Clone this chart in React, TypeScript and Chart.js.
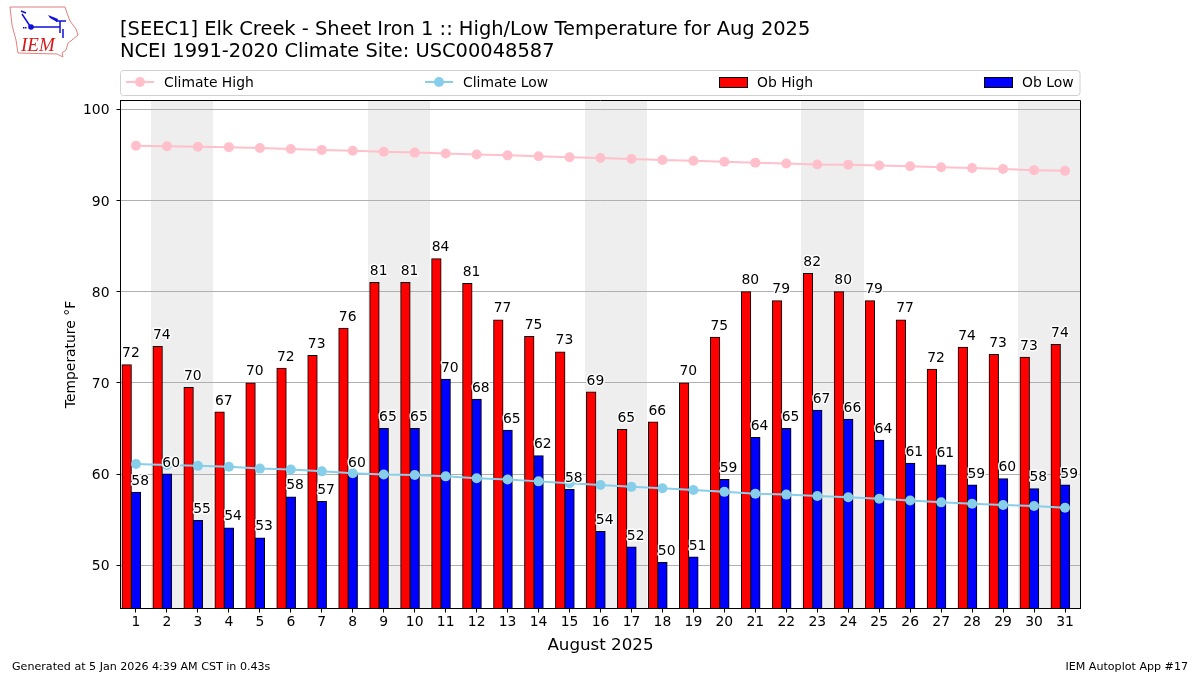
import React, { useEffect, useRef } from "react";
import { Chart, registerables } from "chart.js";

Chart.register(...registerables);

const days = Array.from({ length: 31 }, (_, i) => String(i + 1));
const obHigh = [72, 74, 69.5, 66.8, 70, 71.6, 73, 76, 81, 81, 83.6, 80.9, 76.9, 75.1, 73.4, 69, 64.9, 65.7, 70, 75, 80, 79, 82, 80, 79, 76.9, 71.5, 73.9, 73.1, 72.8, 74.2];
const obLow = [58, 60, 54.9, 54.1, 53, 57.5, 57, 60, 65, 65, 70.4, 68.2, 64.8, 62, 58.3, 53.7, 52, 50.3, 50.9, 59.4, 64, 65, 67, 66, 63.7, 61.2, 61, 58.8, 59.5, 58.4, 58.8];
const climateHigh = [96.0, 95.95, 95.9, 95.85, 95.75, 95.65, 95.55, 95.45, 95.35, 95.25, 95.15, 95.05, 94.95, 94.85, 94.75, 94.65, 94.55, 94.45, 94.35, 94.25, 94.15, 94.05, 93.95, 93.93, 93.83, 93.75, 93.65, 93.55, 93.45, 93.33, 93.25];
const climateLow = [61.1, 61.0, 60.9, 60.8, 60.6, 60.5, 60.3, 60.1, 59.95, 59.9, 59.75, 59.55, 59.4, 59.2, 59.0, 58.8, 58.6, 58.45, 58.25, 58.05, 57.85, 57.75, 57.6, 57.45, 57.3, 57.1, 56.9, 56.75, 56.6, 56.5, 56.3];
const weekendDays = [2, 3, 9, 10, 16, 17, 23, 24, 30, 31];
const yTicks = [50, 60, 70, 80, 90, 100];
const titleLines = ["[SEEC1] Elk Creek - Sheet Iron 1 :: High/Low Temperature for Aug 2025", "NCEI 1991-2020 Climate Site: USC00048587"];
const footerLeft = "Generated at 5 Jan 2026 4:39 AM CST in 0.43s";
const footerRight = "IEM Autoplot App #17";

const FONT = '"DejaVu Sans"';

const shadePlugin = {
  id: "shade",
  beforeDraw(chart: any) {
    const { ctx, chartArea, scales } = chart;
    const step = scales.x.getPixelForValue(1) - scales.x.getPixelForValue(0);
    ctx.save();
    ctx.fillStyle = "#eeeeee";
    weekendDays.forEach((d) => {
      const c = scales.x.getPixelForValue(d - 1);
      const x0 = Math.floor(c - step / 2);
      const x1 = Math.min(Math.round(c + step / 2), Math.ceil(chartArea.right));
      ctx.fillRect(x0, chartArea.top, x1 - x0, chartArea.bottom - chartArea.top);
    });
    ctx.restore();
  },
};

function drawLogo(ctx: CanvasRenderingContext2D) {
  ctx.save();
  ctx.strokeStyle = "#e08080";
  ctx.lineWidth = 1;
  ctx.beginPath();
  const outline = [[10, 7], [65, 7], [67, 13], [70, 21], [76, 29], [78, 35], [72, 40], [68, 43], [66, 50], [62, 53], [63, 57], [57, 54], [18, 53], [16, 40], [12, 25]];
  outline.forEach(([x, y], i) => (i ? ctx.lineTo(x, y) : ctx.moveTo(x, y)));
  ctx.closePath();
  ctx.stroke();
  ctx.strokeStyle = "#1010d8";
  ctx.fillStyle = "#1010d8";
  ctx.lineWidth = 1.5;
  ctx.beginPath();
  ctx.moveTo(31, 27); ctx.lineTo(60, 27);
  ctx.moveTo(60, 21); ctx.lineTo(60, 33);
  ctx.moveTo(63, 29); ctx.lineTo(63, 38);
  ctx.moveTo(56, 21); ctx.lineTo(66, 21);
  ctx.moveTo(22, 14); ctx.lineTo(30, 26);
  ctx.moveTo(21, 11); ctx.lineTo(26, 13);
  ctx.stroke();
  ctx.beginPath();
  ctx.arc(31, 27, 2.8, 0, Math.PI * 2);
  ctx.fill();
  ctx.beginPath();
  ctx.moveTo(48, 15); ctx.lineTo(58, 19); ctx.lineTo(57, 22); ctx.lineTo(50, 18); ctx.closePath();
  ctx.fill();
  ctx.fillRect(23, 27, 1.5, 1.5);
  ctx.fillRect(25, 27, 1.5, 1.5);
  ctx.fillStyle = "#d81818";
  ctx.font = 'italic 19px "Liberation Serif"';
  ctx.textAlign = "left";
  ctx.textBaseline = "alphabetic";
  ctx.fillText("IEM", 21, 51);
  ctx.restore();
}

function drawLegend(chart: any) {
  const ctx: CanvasRenderingContext2D = chart.ctx;
  const slots: Record<string, number> = { "Climate High": 126, "Climate Low": 425, "Ob High": 719, "Ob Low": 984 };
  ctx.save();
  ctx.strokeStyle = "#d0d0d0";
  ctx.lineWidth = 1;
  ctx.beginPath();
  ctx.roundRect(120.5, 70.5, 959.5, 25, 3);
  ctx.stroke();
  ctx.textAlign = "left";
  ctx.textBaseline = "alphabetic";
  ctx.font = `13.9px ${FONT}`;
  chart.data.datasets.forEach((ds: any) => {
    if (!ds.label) return;
    const x = slots[ds.label];
    if (ds.type === "line") {
      ctx.strokeStyle = ds.borderColor;
      ctx.lineWidth = 2;
      ctx.beginPath();
      ctx.moveTo(x, 82);
      ctx.lineTo(x + 28, 82);
      ctx.stroke();
      ctx.fillStyle = ds.borderColor;
      ctx.beginPath();
      ctx.arc(x + 14, 82, 5, 0, Math.PI * 2);
      ctx.fill();
    } else {
      ctx.fillStyle = ds.backgroundColor;
      ctx.fillRect(x + 0.5, 77.5, 28, 10);
      ctx.strokeStyle = "#000";
      ctx.lineWidth = 1;
      ctx.strokeRect(x + 0.5, 77.5, 28, 10);
    }
    ctx.fillStyle = "#000";
    ctx.fillText(ds.label, x + 38, 86.5);
  });
  ctx.restore();
}

const overlayPlugin = {
  id: "overlay",
  afterDraw(chart: any) {
    const { ctx, chartArea } = chart;
    ctx.save();
    ctx.font = `13.9px ${FONT}`;
    ctx.textAlign = "left";
    ctx.textBaseline = "alphabetic";
    ctx.lineJoin = "round";
    chart.data.datasets.forEach((ds: any, i: number) => {
      if (ds.type !== "bar") return;
      chart.getDatasetMeta(i).data.forEach((el: any, j: number) => {
        const text = String(Math.round(ds.data[j]));
        const x = el.x - el.width / 2;
        const y = el.y - 7.5;
        ctx.strokeStyle = "rgba(255,255,255,0.95)";
        ctx.lineWidth = 3;
        ctx.strokeText(text, x, y);
        ctx.fillStyle = "#000";
        ctx.fillText(text, x, y);
      });
    });
    ctx.strokeStyle = "#000";
    ctx.lineWidth = 1;
    ctx.strokeRect(chartArea.left, chartArea.top, chartArea.right - chartArea.left, chartArea.bottom - chartArea.top);
    ctx.fillStyle = "#000";
    ctx.font = `19.45px ${FONT}`;
    ctx.fillText(titleLines[0], 120, 35);
    ctx.fillText(titleLines[1], 120, 57);
    ctx.font = `11.1px ${FONT}`;
    ctx.textAlign = "left";
    ctx.fillText(footerLeft, 12, 670);
    ctx.textAlign = "right";
    ctx.fillText(footerRight, 1188, 670);
    ctx.restore();
    drawLegend(chart);
    drawLogo(ctx);
  },
};

export default function App() {
  const ref = useRef<HTMLCanvasElement>(null);
  useEffect(() => {
    document.body.style.margin = "0";
    document.body.style.background = "#fff";
    const chart = new Chart(ref.current as HTMLCanvasElement, {
      type: "bar",
      data: {
        labels: days,
        datasets: [
          { type: "line", label: "Climate High", data: climateHigh, borderColor: "#FFC0CB", backgroundColor: "#FFC0CB", borderWidth: 2, pointRadius: 5, pointHoverRadius: 5, pointBackgroundColor: "#FFC0CB", pointBorderColor: "#FFC0CB", pointBorderWidth: 0, tension: 0, order: 0 },
          { type: "line", label: "Climate Low", data: climateLow, borderColor: "#87CEEB", backgroundColor: "#87CEEB", borderWidth: 2, pointRadius: 5, pointHoverRadius: 5, pointBackgroundColor: "#87CEEB", pointBorderColor: "#87CEEB", pointBorderWidth: 0, tension: 0, order: 0 },
          { type: "bar", label: "Ob High", data: obHigh, backgroundColor: "#FF0000", borderColor: "#000", borderWidth: 1, inflateAmount: 0.5, barPercentage: 1, categoryPercentage: 0.9, order: 1 },
          { type: "bar", label: "Ob Low", data: obLow, backgroundColor: "#0000FF", borderColor: "#000", borderWidth: 1, inflateAmount: 0.5, barPercentage: 1, categoryPercentage: 0.9, order: 1 },
          // empty third slot: the reference centres the low bar on the tick and the high bar left of it
          { type: "bar", data: [], barPercentage: 1, categoryPercentage: 0.9, order: 1 },
        ],
      } as any,
      options: {
        responsive: false,
        animation: false,
        devicePixelRatio: 1,
        layout: { padding: { left: 60.5, right: 119.5, top: 100.5, bottom: 16.5 } },
        plugins: { legend: { display: false }, title: { display: false }, tooltip: { enabled: false } },
        scales: {
          x: {
            type: "category",
            offset: true,
            grid: { drawOnChartArea: false, drawTicks: true, tickLength: 4, color: "#000", offset: false },
            border: { color: "#000" },
            ticks: { color: "#000", autoSkip: false, maxRotation: 0, padding: 2, font: { family: FONT, size: 13.9 } },
            title: { display: true, text: "August 2025", color: "#000", font: { family: FONT, size: 16.7 }, padding: { top: 4, bottom: 3 } },
            afterFit: (s: any) => { s.height = 50; },
          },
          y: {
            min: 45.26,
            max: 100.965,
            afterBuildTicks: (s: any) => { s.ticks = yTicks.map((value) => ({ value })); },
            grid: { color: "#b0b0b0", lineWidth: 1, tickColor: "#000", tickLength: 4 },
            border: { color: "#000" },
            ticks: { color: "#000", padding: 7, labelOffset: 1.5, font: { family: FONT, size: 13.9 } },
            title: { display: true, text: "Temperature °F", color: "#000", font: { family: FONT, size: 13.9 }, padding: { top: 3, bottom: 0 } },
            afterFit: (s: any) => { s.width = 60; },
          },
        },
      },
      plugins: [shadePlugin, overlayPlugin],
    } as any);
    return () => chart.destroy();
  }, []);
  return (
    <div style={{ position: "fixed", left: 0, top: 0, width: 1200, height: 675 }}>
      <canvas ref={ref} width={1200} height={675} style={{ display: "block", width: 1200, height: 675 }} />
    </div>
  );
}
